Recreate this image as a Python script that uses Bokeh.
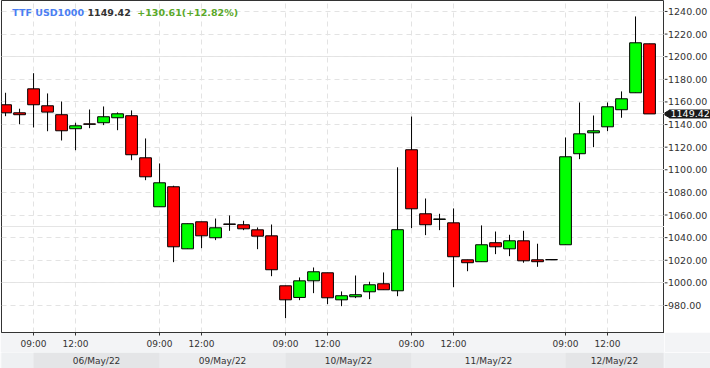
import math
from bokeh.plotting import figure
from bokeh.models import Range1d, FixedTicker, Label, ColumnDataSource, Grid
from bokeh.layouts import column, row
from bokeh.embed import file_html
from bokeh.resources import INLINE
from bokeh.core.properties import value

# ---- data (hourly candles, index based) ----
opens = [1157.5, 1150.4, 1171.6, 1156.6, 1148.7, 1136.3, 1140.6, 1141.6, 1146.0, 1147.8,
         1110.6, 1067.3, 1085.0, 1030.1, 1054.0, 1039.9, 1052.1, 1051.4, 1046.9, 1041.6,
         997.4, 987.1, 1001.8, 1008.9, 985.0, 987.7, 992.1, 999.2, 993.0, 1117.7,
         1061.1, 1056.1, 1053.1, 1020.4, 1018.7, 1035.5, 1030.1, 1037.2, 1020.4, 1020.6,
         1033.7, 1114.2, 1132.7, 1138.0, 1153.1, 1168.1, 1211.4]
highs = [1168.1, 1154.0, 1185.4, 1167.5, 1160.4, 1141.6, 1153.3, 1156.0, 1150.7, 1152.5,
         1127.7, 1105.6, 1085.9, 1052.3, 1054.0, 1056.9, 1059.6, 1054.9, 1049.0, 1051.6,
         997.4, 1004.8, 1013.6, 1008.9, 992.4, 1006.5, 1001.0, 1009.2, 1102.2, 1147.1,
         1074.6, 1061.1, 1065.8, 1020.4, 1050.8, 1045.4, 1042.5, 1046.0, 1034.6, 1020.6,
         1128.6, 1159.5, 1148.0, 1159.5, 1169.3, 1235.6, 1211.4]
lows = [1147.4, 1140.3, 1137.4, 1134.1, 1125.9, 1117.3, 1136.8, 1139.5, 1135.0, 1108.5,
        1090.8, 1067.3, 1018.3, 1030.1, 1030.7, 1037.8, 1046.0, 1046.6, 1029.8, 1005.9,
        968.8, 984.7, 990.9, 981.2, 979.4, 986.5, 985.6, 993.9, 988.2, 1048.4,
        1042.2, 1046.6, 996.2, 1010.3, 1018.7, 1025.4, 1023.6, 1017.8, 1014.2, 1020.4,
        1033.7, 1109.4, 1120.0, 1134.2, 1146.0, 1168.1, 1149.42]
closes = [1150.4, 1148.7, 1157.5, 1151.0, 1134.5, 1138.9, 1140.2, 1146.9, 1149.5, 1113.3,
          1093.8, 1088.5, 1031.9, 1052.3, 1041.6, 1048.7, 1051.7, 1047.8, 1041.3, 1011.6,
          985.0, 1001.8, 1009.8, 986.8, 988.6, 989.5, 998.3, 993.9, 1047.0, 1065.5,
          1051.4, 1056.5, 1023.1, 1017.8, 1033.7, 1031.9, 1037.2, 1019.5, 1018.7, 1020.4,
          1111.5, 1131.8, 1134.5, 1155.7, 1162.8, 1212.3, 1149.42]

tick_idx = [2, 5, 11, 14, 20, 23, 29, 32, 40, 43]
tick_labels = ["09:00", "12:00", "09:00", "12:00", "09:00", "12:00", "09:00", "12:00", "09:00", "12:00"]
day_labels = ["06/May/22", "09/May/22", "10/May/22", "11/May/22", "12/May/22"]
day_start = [2, 11, 20, 29, 40]
day_end = [11, 20, 29, 40, 47]
y_ticks = [980, 1000, 1020, 1040, 1060, 1080, 1100, 1120, 1140, 1160, 1180, 1200, 1220, 1240]

symbol = "TTF USD1000"
last_price = "1149.42"
change_text = "+130.61(+12.82%)"

FONT = "DejaVu Sans"
AXIS_C = "#333333"
STRIP = "#f3f4f6"

# ---- sources ----
idx = list(range(len(opens)))
src = ColumnDataSource(dict(
    x=idx,
    top=[max(o, c) for o, c in zip(opens, closes)],
    bottom=[min(o, c) for o, c in zip(opens, closes)],
    high=highs, low=lows,
    color=["#00ff00" if c > o else "#ff0000" for o, c in zip(opens, closes)],
))

# ---- main price panel ----
p = figure(frame_width=663, frame_height=332,
           x_range=Range1d(-0.29, 47.07), y_range=Range1d(956.1, 1249.7),
           output_backend="svg", toolbar_location=None, y_axis_location=None,
           min_border_left=1, min_border_top=0, min_border_right=0, min_border_bottom=20)
p.background_fill_color = "white"
p.border_fill_color = STRIP
p.outline_line_color = AXIS_C
p.outline_line_width = 1

p.xgrid.ticker = FixedTicker(ticks=tick_idx)
yg = Grid(dimension=1, ticker=FixedTicker(ticks=y_ticks))
p.add_layout(yg)
for g in (p.xgrid[0], yg):
    g.grid_line_color = "#e3e3e3"
    g.grid_line_dash = "5 4"
    g.grid_line_width = 1

xa = p.xaxis[0]
xa.ticker = FixedTicker(ticks=tick_idx)
xa.major_label_overrides = {t: l for t, l in zip(tick_idx, tick_labels)}
xa.major_label_text_font = FONT
xa.major_label_text_font_size = "9px"
xa.major_label_text_color = AXIS_C
xa.major_tick_out = 3
xa.major_tick_in = 0
xa.minor_tick_line_color = None
xa.axis_line_color = AXIS_C
xa.major_tick_line_color = AXIS_C
xa.major_label_standoff = 3

p.segment(x0="x", y0="low", x1="x", y1="high", source=src, line_color="black", line_width=1)
p.vbar(x="x", width=0.84, top="top", bottom="bottom", source=src,
       fill_color="color", line_color="black", line_width=1)

hdr = dict(x_units="screen", y_units="screen", y=320.5, text_font=FONT,
           text_font_style="bold", text_font_size="9.5px", text_baseline="middle")
p.add_layout(Label(x=10.7, text=symbol, text_color="#4a7ef2", **hdr))
p.add_layout(Label(x=86, text=last_price, text_color="#333333", **hdr))
p.add_layout(Label(x=135.7, text=change_text, text_color="#5aa829", **hdr))

# ---- right price scale strip (shares the y scale) ----
side = figure(frame_width=46, frame_height=332, x_range=Range1d(0, 46), y_range=p.y_range,
              output_backend="svg", toolbar_location=None,
              x_axis_location=None, y_axis_location=None,
              min_border_left=0, min_border_top=0, min_border_right=0, min_border_bottom=20)
side.grid.visible = False
side.outline_line_color = None
side.background_fill_color = "white"
side.border_fill_color = STRIP
tick_src = ColumnDataSource(dict(y=y_ticks, label=["%.2f" % t for t in y_ticks]))
side.segment(x0=0, y0="y", x1=3, y1="y", source=tick_src, line_color=AXIS_C, line_width=1)
side.text(x=3.5, y="y", text="label", source=tick_src, text_font=value(FONT),
          text_font_size="9.5px", text_color=AXIS_C, text_baseline="middle", text_align="left")
# last price marker
mk_src = ColumnDataSource(dict(y=[closes[-1]], label=[last_price]))
side.scatter(x=3.2, y="y", marker="triangle", size=8, angle=math.pi / 2, source=mk_src,
             fill_color="#1a1a1a", line_color="#1a1a1a")
side.rect(x=25.5, y="y", width=41, height=9, height_units="screen", source=mk_src,
          fill_color="#1a1a1a", line_color=None)
side.text(x=6, y="y", text="label", source=mk_src, text_font=value(FONT),
          text_font_size="9.5px", text_color="white", text_baseline="middle", text_align="left")

# ---- date band ----
band = figure(frame_width=663, frame_height=16, x_range=p.x_range, y_range=Range1d(0, 1),
              output_backend="svg", toolbar_location=None,
              min_border_left=1, min_border_right=46, min_border_top=0, min_border_bottom=0)
band.axis.visible = False
band.grid.visible = False
band.outline_line_color = None
band.background_fill_color = "#eef0f2"
band.border_fill_color = "#eef0f2"
band_src = ColumnDataSource(dict(
    left=day_start, right=day_end,
    xm=[(s + e) / 2 for s, e in zip(day_start, day_end)],
    label=day_labels,
    color=["#e4e5e7" if i % 2 == 0 else "#ebecee" for i in range(len(day_labels))],
))
band.quad(left="left", right="right", bottom=0, top=1, fill_color="color", line_color=None, source=band_src)
band.text(x="xm", y=0.5, text="label", source=band_src, text_font=value(FONT),
          text_font_size="9px", text_color=AXIS_C, text_align="center", text_baseline="middle")

layout = column(row(p, side, spacing=0), band, spacing=0)
open("out.html", "w").write(file_html(layout, INLINE))
